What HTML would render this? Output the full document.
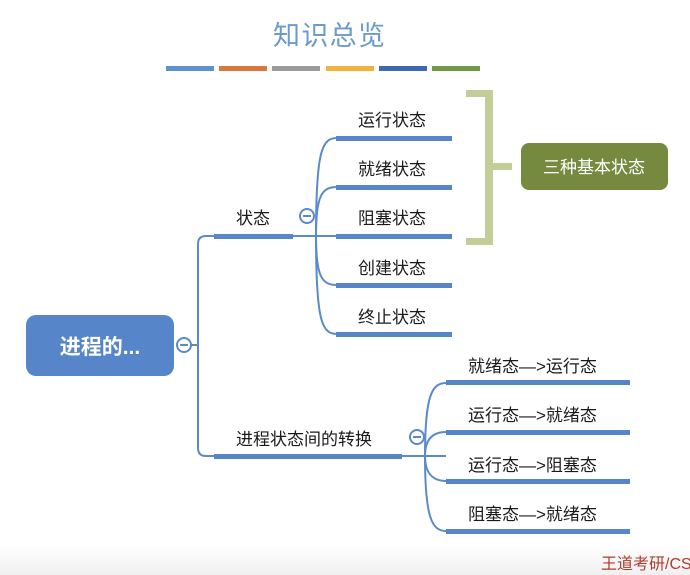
<!DOCTYPE html>
<html><head><meta charset="utf-8"><style>
html,body{margin:0;padding:0;background:#fff;}
svg{display:block;}
text{font-family:"Liberation Sans","Noto Sans CJK SC",sans-serif;}
</style></head><body>
<svg width="690" height="575" viewBox="0 0 690 575" xmlns="http://www.w3.org/2000/svg">
<defs>
<linearGradient id="bg" x1="0" y1="0" x2="0" y2="1">
<stop offset="0" stop-color="#fff"/><stop offset="1" stop-color="#f0f0f0"/>
</linearGradient>
</defs>
<rect x="0" y="545" width="690" height="30" fill="url(#bg)"/>
<text x="329" y="45" font-size="27" fill="#6a9ad0" text-anchor="middle" textLength="112" font-weight="normal">知识总览</text>
<g>
<rect x="166" y="66" width="48" height="5" fill="#5f92cc"/>
<rect x="219" y="66" width="48" height="5" fill="#d8773f"/>
<rect x="272" y="66" width="48" height="5" fill="#9b9b9b"/>
<rect x="326" y="66" width="48" height="5" fill="#f1b33b"/>
<rect x="379" y="66" width="48" height="5" fill="#3f69ae"/>
<rect x="432" y="66" width="48" height="5" fill="#6f9a43"/>
</g>
<rect x="26" y="315" width="148" height="61" rx="10" fill="#5686c9"/>
<text x="100" y="354" font-size="21" font-weight="bold" fill="#fff" text-anchor="middle">进程的...</text>
<g fill="none" stroke="#5b8ac9" stroke-width="2">
<circle cx="184" cy="345" r="7" fill="#fff"/>
<line x1="180" y1="345" x2="188" y2="345"/>
<line x1="191" y1="345" x2="198" y2="345"/>
<path d="M214 236 H206 Q198 236 198 244 V448 Q198 456 206 456 H214"/>
<circle cx="307" cy="216" r="7" fill="#fff"/>
<line x1="303" y1="216" x2="311" y2="216"/>
<line x1="293" y1="236" x2="337" y2="236"/>
<path d="M316 236 C316 150 322 138 337 138"/>
<path d="M316 236 C316 195 322 187 337 187"/>
<path d="M316 236 C316 277 322 285 337 285"/>
<path d="M316 236 C316 322 322 334 337 334"/>
<circle cx="417" cy="437" r="7" fill="#fff"/>
<line x1="413" y1="437" x2="421" y2="437"/>
<line x1="402" y1="456" x2="446" y2="456"/>
<path d="M425 456 C425 395 432 383 446 383"/>
<path d="M425 456 C425 440 432 432 446 432"/>
<path d="M425 456 C425 472 432 481 446 481"/>
<path d="M425 456 C425 518 432 531 446 531"/>
</g>
<g fill="#5686c9">
<rect x="214" y="234" width="79" height="5"/>
<rect x="214" y="454" width="188" height="5"/>
<rect x="336" y="136" width="116" height="5"/>
<rect x="336" y="185" width="116" height="5"/>
<rect x="336" y="234" width="116" height="5"/>
<rect x="336" y="283" width="116" height="5"/>
<rect x="336" y="332" width="116" height="5"/>
<rect x="446" y="380" width="184" height="5"/>
<rect x="446" y="430" width="184" height="5"/>
<rect x="446" y="479" width="184" height="5"/>
<rect x="446" y="529" width="184" height="5"/>
</g>
<g font-size="17" fill="#1a1a1a">
<text x="236" y="224">状态</text>
<text x="236" y="445">进程状态间的转换</text>
<text x="358" y="126">运行状态</text>
<text x="358" y="175">就绪状态</text>
<text x="358" y="224">阻塞状态</text>
<text x="358" y="274">创建状态</text>
<text x="358" y="323">终止状态</text>
<text x="468" y="372">就绪态—&gt;运行态</text>
<text x="468" y="421">运行态—&gt;就绪态</text>
<text x="468" y="471">运行态—&gt;阻塞态</text>
<text x="468" y="520">阻塞态—&gt;就绪态</text>
</g>
<g fill="#c3cd97">
<rect x="466" y="90" width="27" height="7"/>
<rect x="485" y="90" width="8" height="155"/>
<rect x="466" y="238" width="27" height="7"/>
<rect x="493" y="163" width="19" height="7"/>
</g>
<rect x="521" y="143" width="147" height="47" rx="8" fill="#768a3f"/>
<text x="594" y="173" font-size="17" fill="#fff" text-anchor="middle">三种基本状态</text>
<text x="601" y="569" font-size="16" fill="#b23a2a">王道考研/CS</text>
</svg>
</body></html>
